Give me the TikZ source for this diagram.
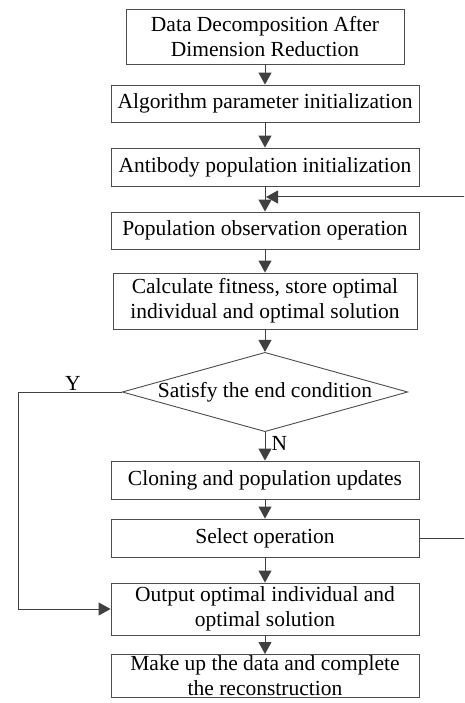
\documentclass[tikz,border=0pt]{standalone}
\usepackage{fontspec}
\setmainfont{Liberation Serif}
\usetikzlibrary{
  arrows.meta,
  shapes.geometric
}
\begin{document}
\begin{tikzpicture}[
  x=1pt,y=-1pt,
  >={Triangle[width=13pt,length=12pt]},
  every node/.style={font=\fontsize{21.5pt}{25pt}\selectfont},
  procbox/.style={draw=black!70,line width=0.9pt,align=center,
    minimum width=308pt,minimum height=38pt,inner sep=3pt},
  condbox/.style={draw=black!70,line width=0.9pt,diamond,aspect=3.6,
    inner sep=0pt,minimum width=284pt,minimum height=78pt},
  flow/.style={draw=black!75,line width=1pt,->},
]
\clip (0,0) rectangle (464,703);
\node[procbox,minimum width=278pt,minimum height=55pt] (data) at (265,36.5)
  {Data Decomposition After\\Dimension Reduction};
\node[procbox,minimum height=37pt] (param) at (265,103.5) {Algorithm parameter initialization};
\node[procbox] (init) at (265,167) {Antibody population initialization};
\node[procbox,minimum height=37pt] (observe) at (265,230.5) {Population observation operation};
\node[procbox,minimum width=304pt,minimum height=56pt] (fit) at (265,301)
  {Calculate fitness, store optimal\\individual and optimal solution};
\node[condbox] (cond) at (265,392) {Satisfy the end condition};
\node[procbox] (clone) at (265,480) {Cloning and population updates};
\node[procbox] (select) at (265,538) {Select operation};
\node[procbox,minimum height=52pt] (output) at (265,609)
  {Output optimal individual and\\optimal solution};
\node[procbox,minimum height=0pt,inner ysep=1.5pt,anchor=north] (rebuild) at (265,654)
  {Make up the data and complete\\the reconstruction};
\coordinate (join) at (266,197);

\draw[flow] (data) -- (param);
\draw[flow] (param) -- (init);
\draw[flow] (init) -- (observe);
\draw[flow] (observe) -- (fit);
\draw[flow] (fit) -- (cond);
\draw[flow] (cond) -- node[pos=0.4,right,inner sep=6pt] {N} (clone);
\draw[flow] (clone) -- (select);
\draw[flow] (select) -- (output);
\draw[flow] (output) -- (rebuild);
\draw[flow] (select.east) -- ++(60,0) |- (join);
\draw[flow] (cond.west) -- node[above,inner sep=1pt,xshift=3pt] {Y} (18,392) |- (output.west);
\end{tikzpicture}
\end{document}
